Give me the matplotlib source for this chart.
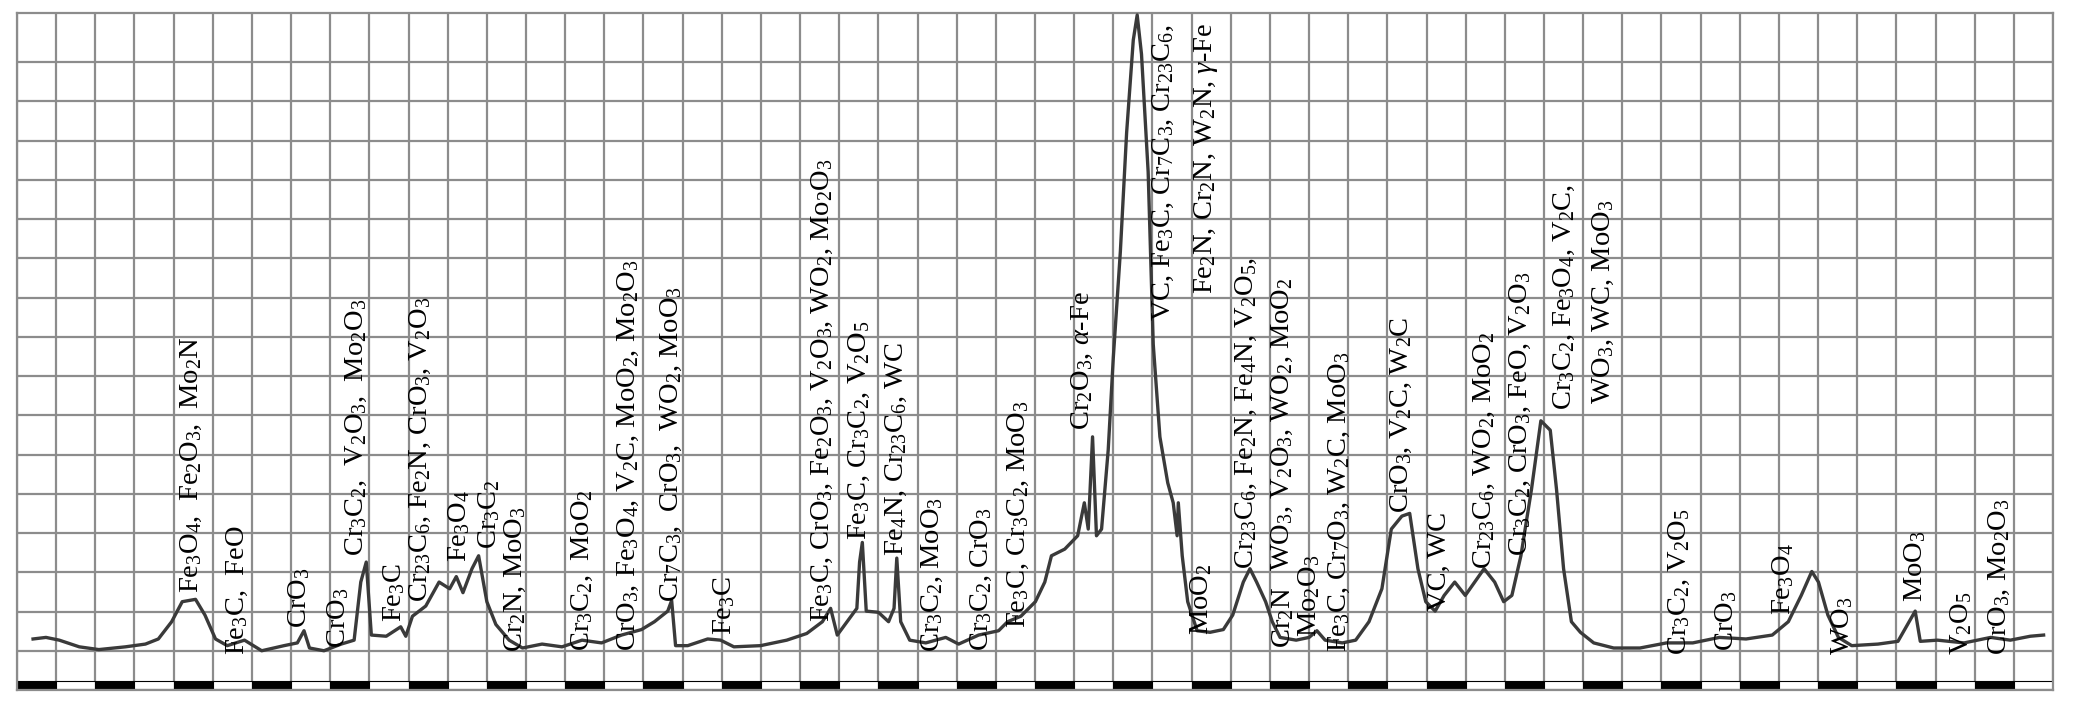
import numpy as np
import matplotlib
matplotlib.use("Agg")
import matplotlib.pyplot as plt

plt.rcParams['font.family'] = 'Liberation Serif'
plt.rcParams['mathtext.fontset'] = 'custom'
plt.rcParams['mathtext.rm'] = 'Liberation Serif'
plt.rcParams['mathtext.it'] = 'Liberation Serif:italic'

# pattern, x in grid columns, y in grid rows
pos = [0.41, 0.74, 1.08, 1.59, 2.09, 2.77, 3.28, 3.61, 3.95, 4.22, 4.56, 4.80, 5.07, 5.37, 5.81, 6.25,
       6.82, 7.16, 7.33, 7.47, 7.84, 8.28, 8.61, 8.78, 8.92, 9.05, 9.43, 9.80, 9.93, 10.10, 10.44, 10.78,
       11.05, 11.22, 11.39, 11.62, 11.79, 12.0, 12.23, 12.57, 12.91, 13.41, 13.92, 14.43, 14.93, 15.44,
       15.95, 16.28, 16.62, 16.72, 16.82, 17.13, 17.64, 17.97, 18.31, 18.99, 19.66, 20.17, 20.57, 20.78,
       20.95, 21.25, 21.45, 21.52, 21.59, 21.69, 22.0, 22.26, 22.40, 22.47, 22.57, 22.80, 23.21, 23.72,
       24.05, 24.56, 25.07, 25.30, 25.64, 26.01, 26.25, 26.42, 26.76, 27.09, 27.26, 27.36, 27.47, 27.57,
       27.70, 27.87, 28.0, 28.18, 28.34, 28.51, 28.61, 28.72, 28.89, 29.02, 29.19, 29.39, 29.53, 29.63,
       29.66, 29.76, 29.9, 30.14, 30.47, 30.81, 31.05, 31.32, 31.49, 31.66, 31.89, 32.06, 32.26, 32.67,
       33.0, 33.2, 33.41, 33.85, 34.19, 34.53, 34.86, 35.1, 35.37, 35.57, 35.78, 35.98, 36.22, 36.45,
       36.72, 36.99, 37.23, 37.47, 37.74, 37.97, 38.18, 38.41, 38.68, 38.92, 39.16, 39.32, 39.5, 39.7,
       39.93, 40.27, 40.78, 41.45, 42.13, 42.8, 43.48, 44.16, 44.83, 45.24, 45.57, 45.84, 46.01, 46.25,
       46.52, 46.86, 47.53, 48.04, 48.48, 48.61, 49.05, 49.73, 50.41, 50.91, 51.42, 51.76]
inten = [0.30, 0.34, 0.27, 0.10, 0.03, 0.10, 0.17, 0.30, 0.74, 1.25, 1.31, 0.91, 0.30, 0.13, 0.27, 0.0,
         0.13, 0.20, 0.51, 0.07, 0.0, 0.17, 0.27, 1.75, 2.26, 0.40, 0.37, 0.61, 0.37, 0.88, 1.14, 1.75,
         1.58, 1.89, 1.48, 2.09, 2.42, 1.25, 0.67, 0.27, 0.07, 0.17, 0.10, 0.27, 0.20, 0.40,
         0.54, 0.74, 1.01, 1.28, 0.13, 0.13, 0.30, 0.27, 0.10, 0.13, 0.27, 0.44, 0.74, 1.08,
         0.40, 0.81, 1.08, 2.26, 2.76, 1.01, 0.98, 0.74, 1.08, 2.36, 0.74, 0.27, 0.20, 0.34,
         0.17, 0.40, 0.51, 0.74, 0.88, 1.25, 1.75, 2.42, 2.59, 2.93, 3.77, 3.10, 5.45, 2.93,
         3.10, 5.12, 7.47, 10.17, 13.2, 15.56, 16.2, 15.2, 12.2, 7.81, 5.45, 4.28, 3.77, 2.93,
         3.77, 2.42, 1.25, 0.51, 0.47, 0.54, 0.91, 1.75, 2.09, 1.75, 1.25, 0.74, 0.34, 0.27,
         0.34, 0.51, 0.27, 0.20, 0.27, 0.74, 1.58, 3.10, 3.43, 3.50, 2.09, 1.25, 1.01, 1.41,
         1.75, 1.41, 1.75, 2.09, 1.75, 1.25, 1.41, 2.42, 4.11, 5.86, 5.62, 4.11, 2.09, 0.74,
         0.47, 0.20, 0.07, 0.07, 0.20, 0.20, 0.34, 0.30, 0.40, 0.74, 1.41, 2.02, 1.75, 0.91,
         0.34, 0.13, 0.17, 0.24, 1.01, 0.24, 0.27, 0.20, 0.34, 0.27, 0.37, 0.40]

# phase labels: text, column, bottom row
lab_text = [
    r"Fe$_3$O$_4$,  Fe$_2$O$_3$,  Mo$_2$N",
    r"Fe$_3$C,  FeO",
    r"CrO$_3$",
    r"CrO$_3$",
    r"Cr$_3$C$_2$,  V$_2$O$_3$,  Mo$_2$O$_3$",
    r"Fe$_3$C",
    r"Cr$_{23}$C$_6$, Fe$_2$N, CrO$_3$, V$_2$O$_3$",
    r"Fe$_3$O$_4$",
    r"Cr$_3$C$_2$",
    r"Cr$_2$N, MoO$_3$",
    r"Cr$_3$C$_2$,  MoO$_2$",
    r"CrO$_3$, Fe$_3$O$_4$, V$_2$C, MoO$_2$, Mo$_2$O$_3$",
    r"Cr$_7$C$_3$,  CrO$_3$,  WO$_2$, MoO$_3$",
    r"Fe$_3$C",
    r"Fe$_3$C, CrO$_3$, Fe$_2$O$_3$, V$_2$O$_3$, WO$_2$, Mo$_2$O$_3$",
    r"Fe$_3$C, Cr$_3$C$_2$, V$_2$O$_5$",
    r"Fe$_4$N, Cr$_{23}$C$_6$, WC",
    r"Cr$_3$C$_2$, MoO$_3$",
    r"Cr$_3$C$_2$, CrO$_3$",
    r"Fe$_3$C, Cr$_3$C$_2$, MoO$_3$",
    r"Cr$_2$O$_3$, $\alpha$-Fe",
    r"VC, Fe$_3$C, Cr$_7$C$_3$, Cr$_{23}$C$_6$,",
    r"Fe$_2$N, Cr$_2$N, W$_2$N, $\gamma$-Fe",
    r"MoO$_2$",
    r"Cr$_{23}$C$_6$, Fe$_2$N, Fe$_4$N, V$_2$O$_5$,",
    r"WO$_3$, V$_2$O$_3$, WO$_2$, MoO$_2$",
    r"Cr$_2$N",
    r"Mo$_2$O$_3$",
    r"Fe$_3$C, Cr$_7$O$_3$, W$_2$C, MoO$_3$",
    r"CrO$_3$, V$_2$C, W$_2$C",
    r"VC, WC",
    r"Cr$_{23}$C$_6$, WO$_2$, MoO$_2$",
    r"Cr$_3$C$_2$, CrO$_3$, FeO, V$_2$O$_3$",
    r"Cr$_3$C$_2$, Fe$_3$O$_4$, V$_2$C,",
    r"WO$_3$, WC, MoO$_3$",
    r"Cr$_3$C$_2$, V$_2$O$_5$",
    r"CrO$_3$",
    r"Fe$_3$O$_4$",
    r"WO$_3$",
    r"MoO$_3$",
    r"V$_2$O$_5$",
    r"CrO$_3$, Mo$_2$O$_3$",
]
lab_x = [4.46, 5.64, 7.20, 8.21, 8.68, 9.63, 10.30, 11.28, 12.06, 12.74, 14.43, 15.61, 16.72, 18.07,
         20.57, 21.52, 22.47, 23.38, 24.63, 25.57, 27.20, 29.29, 30.37, 30.24, 31.39, 32.33, 32.33,
         33.0, 33.78, 35.37, 36.32, 37.47, 38.41, 39.53, 40.51, 42.47, 43.65, 45.10, 46.62, 48.48,
         49.66, 50.64]
lab_y = [1.48, -0.10, 0.57, 0.07, 2.42, 0.74, 1.25, 2.26, 2.59, -0.03, 0.0, 0.0, 1.25, 0.40,
         0.74, 2.83, 2.42, -0.03, 0.0, 0.57, 5.62, 8.40, 9.10, 0.40, 2.09, 2.02, 0.07,
         0.34, -0.03, 3.50, 1.01, 2.09, 2.42, 6.13, 6.30, -0.10, 0.0, 0.91, -0.10, 1.25,
         -0.10, -0.10]

n_cols = 52

fig = plt.figure(figsize=(20.74, 7.06), dpi=100)
ax = fig.add_axes([17 / 2074, 16 / 706, 2036 / 2074, 677 / 706])
ax.set_xlim(0, n_cols)
ax.set_ylim(-1.0, 16.25)

for i in range(n_cols + 1):
    ax.axvline(i, color='#8c8c8c', lw=1.6, zorder=1)
for j in range(0, 16):
    ax.axhline(j, color='#8c8c8c', lw=1.6, zorder=1)

# scale bar along the bottom
for i in range(n_cols):
    ax.bar(i, 0.22, width=1.0, bottom=-0.98, align='edge',
           color='black' if i % 2 == 0 else 'white', edgecolor='black', lw=0.8, zorder=2)

ax.plot(pos, inten, color='#3a3a3a', lw=2.4, zorder=3, clip_on=False)

for t, x, y in zip(lab_text, lab_x, lab_y):
    ax.text(x, y, t, rotation=90, ha='center', va='bottom', fontsize=20.5,
            color='black', zorder=4)

for s in ax.spines.values():
    s.set_color('#8c8c8c')
    s.set_linewidth(1.6)
ax.set_xticks([])
ax.set_yticks([])

fig.savefig("out.png", dpi=100, facecolor='white')
